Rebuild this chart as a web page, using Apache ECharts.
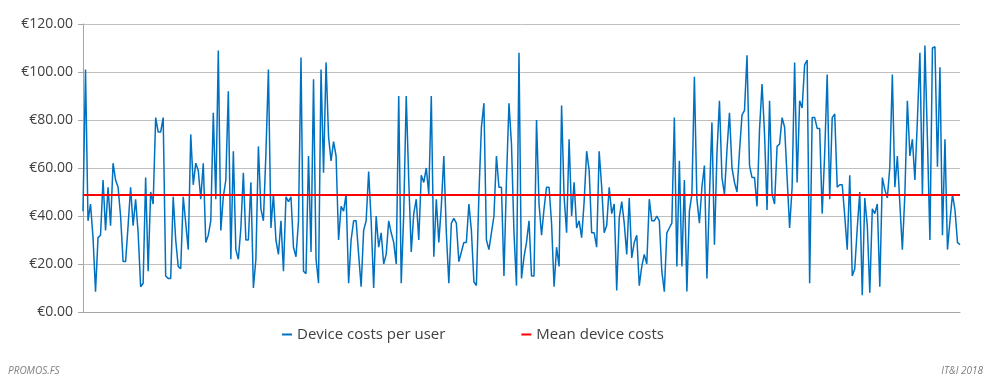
<!DOCTYPE html>
<html><head><meta charset="utf-8">
<script src="https://cdn.jsdelivr.net/npm/echarts@6/dist/echarts.min.js"></script>
<style>html,body{margin:0;padding:0;background:#fff}#c{width:1000px;height:389px}</style>
</head><body><div id="c"></div>
<script>
const values1 = [42, 101, 38, 45, 31, 8.5, 31, 32, 55, 34, 52, 36, 62, 55, 52, 40, 21, 21, 36, 52, 36, 47, 33, 10.5, 12, 56, 17, 50, 45, 81, 75, 75, 81, 15, 14];
const values2 = [14, 48, 30, 19, 18, 48, 37, 26, 74, 53, 62, 59, 47, 62, 29, 32, 38, 83, 47, 109, 34, 48, 55, 92, 22, 67, 26, 22, 35, 58, 30, 30, 54, 10];
const values3 = [22, 69, 43, 38, 66, 101, 35, 49, 30, 24, 38, 17, 48, 46, 48, 27, 23, 38, 106, 17, 16, 65, 25, 97, 22, 12, 101, 58, 104, 73, 63, 71, 65, 30, 44, 42];
const values4 = [49, 12, 30, 38, 38, 24, 10.5, 34, 38, 58.5, 38, 10, 40, 27, 33, 20, 24, 38, 33, 29, 20, 90, 12, 41, 90, 55, 25, 41, 47, 30, 57, 54, 60, 49];
const values5 = [90, 23, 47, 29, 44, 65, 33, 12, 37, 39, 37, 21, 25, 29, 29, 45, 34, 12.6, 11, 49, 77, 87, 30, 26, 33, 40, 65, 52, 52, 15, 55, 87, 70, 33, 11, 108, 14];
const values6 = [23, 29, 38, 15, 15, 80, 45, 32, 43, 52, 52, 37, 10.5, 27, 19, 86, 48, 33, 72, 40, 54, 35, 38, 31, 46, 67, 59, 33, 33, 27, 67, 52, 33, 36];
const values7 = [52, 41, 45, 9, 39, 46, 37, 24, 47.5, 22.5, 29, 32, 11, 19, 24, 20, 47, 38, 38, 40, 38, 17, 8.5, 33, 35, 37, 81, 19, 63, 19, 55, 8.5, 42, 49, 98];
const values8 = [47, 37, 52, 61, 14, 48, 79, 28, 66, 88, 56, 49, 67.5, 83, 60, 54, 50, 67, 82, 84, 107, 61, 56, 56, 44, 76, 95, 74, 42.5, 88, 49, 45, 69, 70, 81, 77];
const values9 = [56, 35, 52, 104, 54, 88, 85, 103, 105, 12, 81, 81, 76.5, 76.5, 41, 66, 99, 47, 81, 82.5, 52, 53, 53, 40, 26, 57, 15, 18, 35, 50, 7, 47.5, 36, 8, 43, 41];
const values10 = [45, 10.5, 56, 51, 47.5, 60.5, 99, 52, 65, 45, 26, 49, 88, 65, 72, 55, 80, 108, 49, 111, 72, 30, 110, 110.5, 60.5, 102, 32, 72, 26, 38, 49, 42.5, 29, 28];
const meanValue = 48.7;
const seriesNames = ['Device costs per user', 'Mean device costs'];
const footerLeft = 'PROMOS.FS';
const footerRight = 'IT&I 2018';

const costs = [].concat(values1, values2, values3, values4, values5, values6, values7, values8, values9, values10);
const categories = costs.map((_, i) => 'User ' + (i + 1));
const meanLine = costs.map(() => meanValue);

const chart = echarts.init(document.getElementById('c'), null, {renderer: 'canvas'});
chart.setOption({
  animation: false,
  textStyle: {fontFamily: 'Open Sans'},
  grid: {left: 83, right: 40, top: 24, bottom: 77},
  legend: {
    top: 322, left: 277, itemGap: 76, itemWidth: 10, itemHeight: 2,
    icon: 'rect',
    textStyle: {fontFamily: 'Open Sans', fontSize: 15, color: '#404040'},
    data: seriesNames
  },
  xAxis: {
    type: 'category', data: categories, boundaryGap: false,
    axisLine: {lineStyle: {color: '#a6a6a6', width: 1}},
    axisTick: {show: false}, axisLabel: {show: false}, splitLine: {show: false}
  },
  yAxis: {
    type: 'value', min: 0, max: 120, interval: 20,
    axisLine: {show: true, lineStyle: {color: '#a6a6a6'}},
    axisTick: {show: true, length: 5, lineStyle: {color: '#a6a6a6'}},
    axisLabel: {fontFamily: 'Open Sans', fontSize: 14, color: '#404040', margin: 10,
      formatter: v => '€' + v.toFixed(2)},
    splitLine: {lineStyle: {color: '#bfbfbf', width: 1}}
  },
  series: [
    {name: seriesNames[0], type: 'line', data: costs, symbol: 'none',
     lineStyle: {color: '#0070c0', width: 1.5}, itemStyle: {color: '#0070c0'}, z: 2},
    {name: seriesNames[1], type: 'line', data: meanLine, symbol: 'none',
     lineStyle: {color: '#ff0000', width: 2}, itemStyle: {color: '#ff0000'}, z: 3}
  ],
  graphic: [
    {type: 'text', left: 8, top: 366, style: {text: footerLeft, font: 'italic 10px "Open Sans"', fill: '#7f7f7f'}},
    {type: 'text', right: 17, top: 366, style: {text: footerRight, font: 'italic 10px "Open Sans"', fill: '#7f7f7f'}}
  ]
});
</script></body></html>
